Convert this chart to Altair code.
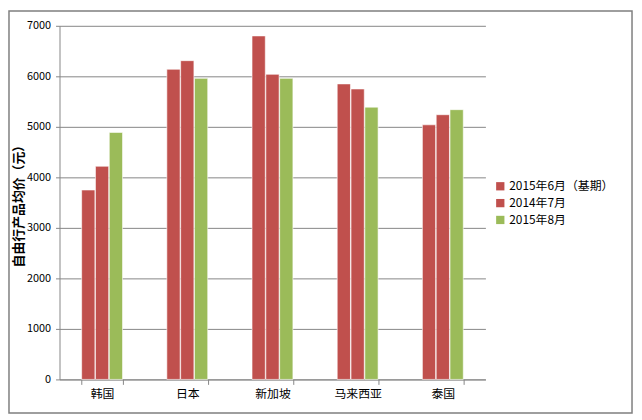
import altair as alt
import pandas as pd

categories = ["韩国", "日本", "新加坡", "马来西亚", "泰国"]
series_names = ["2015年6月（基期）", "2014年7月", "2015年8月"]
s_base = [3750, 6140, 6800, 5850, 5040]
s_2014_07 = [4220, 6310, 6040, 5750, 5240]
s_2015_08 = [4890, 5960, 5960, 5390, 5340]
colors = ["#C0504D", "#C0504D", "#9BBB59"]
y_ticks = [0, 1000, 2000, 3000, 4000, 5000, 6000, 7000]

rows = []
for name, vals in zip(series_names, [s_base, s_2014_07, s_2015_08]):
    for c, v in zip(categories, vals):
        rows.append({"国家": c, "系列": name, "均价": v})
df = pd.DataFrame(rows)

FONT = "Noto Sans CJK SC"
GRID = "#868686"

bars = alt.Chart(df).mark_bar(stroke="white", strokeWidth=0.6).encode(
    x=alt.X("国家:N", sort=categories,
            scale=alt.Scale(paddingInner=0.52, paddingOuter=0.26),
            axis=alt.Axis(title=None, labelAngle=0, tickBand="extent", tickSize=5,
                          tickColor=GRID, domainColor=GRID, labelFontSize=12,
                          labelColor="#000000", labelPadding=4, labelFont=FONT)),
    xOffset=alt.XOffset("系列:N", sort=series_names, scale=alt.Scale(paddingInner=0.04)),
    y=alt.Y("均价:Q", scale=alt.Scale(domain=[0, 7000], nice=False),
            axis=alt.Axis(title="自由行产品均价（元）", values=y_ticks, format="d", tickSize=4,
                          tickColor=GRID, domain=True, domainColor=GRID,
                          gridColor=GRID, gridWidth=1, labelFontSize=11,
                          labelColor="#000000", labelPadding=5, labelFont=FONT,
                          titleFont=FONT, titleFontSize=13, titleFontWeight="bold",
                          titleColor="#000000", titlePadding=1)),
    color=alt.Color("系列:N", sort=series_names,
                    scale=alt.Scale(domain=series_names, range=colors),
                    legend=alt.Legend(title=None, orient="none", legendX=439, legendY=156,
                                      symbolType="square", symbolSize=70,
                                      symbolStrokeWidth=0, labelFontSize=12,
                                      labelFont=FONT, labelColor="#000000",
                                      rowPadding=5, symbolOffset=0, labelOffset=3)),
)

frame = alt.Chart(pd.DataFrame({"f": [0]})).mark_rect(
    fill=None, stroke="#7f7f7f", strokeWidth=1.5, clip=False
).encode(
    x=alt.value(-51), x2=alt.value(578), y=alt.value(-15), y2=alt.value(391)
)

chart = alt.layer(bars, frame).properties(
    width=430, height=357,
    autosize=alt.AutoSizeParams(type="none"),
    padding={"left": 52, "top": 16, "right": 150, "bottom": 40},
).configure_view(stroke=None).configure_axis(grid=True).configure_axisX(grid=False)

chart.save("out.html", embed_options={"renderer": "svg", "actions": False})
